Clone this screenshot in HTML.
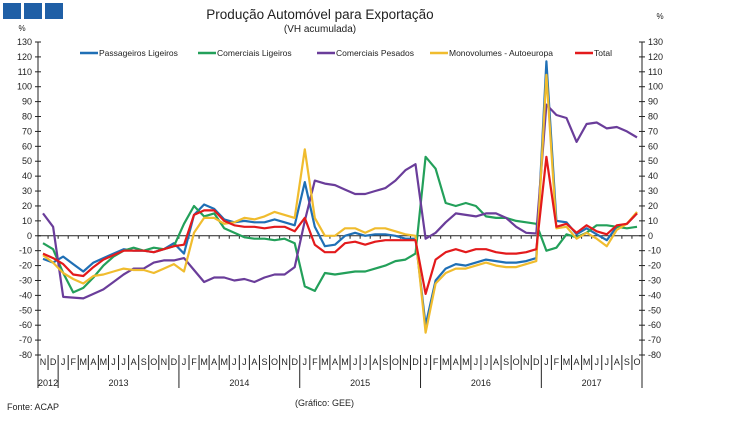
<!DOCTYPE html>
<html><head><meta charset="utf-8"><style>
body{margin:0;background:#fff;}
svg text{font-family:"Liberation Sans",sans-serif;fill:#222;}
</style></head><body>
<svg id="chart" width="750" height="418" xmlns="http://www.w3.org/2000/svg">
<rect x="3" y="3" width="18" height="16" fill="#1f5fa6"/>
<rect x="24" y="3" width="18" height="16" fill="#1f5fa6"/>
<rect x="45" y="3" width="18" height="16" fill="#1f5fa6"/>
<text x="320" y="19" font-size="13.5" text-anchor="middle">Produção Automóvel para Exportação</text>
<text x="320" y="32" font-size="10" text-anchor="middle">(VH acumulada)</text>
<text x="22" y="31" font-size="8" text-anchor="middle">%</text>
<text x="660" y="19" font-size="8" text-anchor="middle">%</text>
<text x="7" y="410" font-size="9">Fonte: ACAP</text>
<text x="295" y="406" font-size="9">(Gráfico: GEE)</text>
<g id="axes"></g><g id="series"></g><g id="legend"></g>
</svg>
<script>
const months=["N","D","J","F","M","A","M","J","J","A","S","O","N","D","J","F","M","A","M","J","J","A","S","O","N","D","J","F","M","A","M","J","J","A","S","O","N","D","J","F","M","A","M","J","J","A","S","O","N","D","J","F","M","A","M","J","J","A","S","O"];
const years=["2012","2013","2014","2015","2016","2017"];
const yearStarts=[0,2,14,26,38,50];
const yTicks=[130,120,110,100,90,80,70,60,50,40,30,20,10,0,-10,-20,-30,-40,-50,-60,-70,-80];
const seriesNames=["Passageiros Ligeiros","Comerciais Ligeiros","Comerciais Pesados","Monovolumes - Autoeuropa","Total"];
const seriesColors=["#1f6fb5","#23a05a","#6a3d9a","#f0bc2e","#e31a1c"];
const passageiros=[-15.5,-18,-14,-19,-24,-18,-15,-12,-9,-10,-10,-11,-9,-5,-12,14,21,18,11,9,10,9,9,11,9,7,36,6,-7,-6,0,2,0,1,1,0,-2,-2,-60,-30,-22,-19,-20,-18,-16,-17,-18,-18,-17,-15,117,10,9,1,5,1,-3,6,8,15];
const comerciaisLigeiros=[-5,-9,-25,-38,-35,-28,-20,-14,-10,-8,-10,-8,-9,-7,8,20,13,15,5,2,-1,-2,-2,-3,-2,-5,-34,-37,-25,-26,-25,-24,-24,-22,-20,-17,-16,-12,53,45,22,20,22,20,13,12,12,10,9,8,-10,-8,1,-1,2,7,7,6,5,6];
const comerciaisPesados=[15,6,-41,-41.5,-42,-39,-36,-31,-26,-22,-22,-18,-16.5,-16.5,-15,-23,-31,-28,-28,-30,-29,-31,-28,-26,-26,-21,10,37,35,34,31,28,28,30,32,37,44,48,-2,2,9,15,14,13,15,15,12,6,2,1.5,88,81,79,63,75,76,72,73,70,66];
const monovolumes=[-13,-18,-25,-29,-32,-27,-26,-24,-22,-23,-23,-25,-22,-19,-24,2,12,12,8,9,12,11,13,16,14,12,58,12,0,0,5,5,2,5,5,3,1,0,-65,-32,-25,-22,-22,-20,-18,-20,-21,-21,-19,-17,108,5,6,-2,2,-2,-7,4,8,16];
const total=[-12,-15,-19,-26,-27,-21,-16,-13,-10,-10,-10,-11,-9,-7,-6,14,17,17,10,7,6,6,5,6,6,3,12,-6,-11,-11,-5,-4,-6,-4,-3,-3,-3,-3,-39,-16,-11,-9,-11,-9,-9,-11,-12,-12,-11,-9,53,6,8,2,7,3,1,7,8,15];
const allSeries=[passageiros,comerciaisLigeiros,comerciaisPesados,monovolumes,total];
const seriesKeys=["passageiros-ligeiros","comerciais-ligeiros","comerciais-pesados","monovolumes-autoeuropa","total"];

const NS="http://www.w3.org/2000/svg";
const X0=38,X1=642,Y0=42,Y1=355,VMAX=130,VMIN=-80;
const n=months.length, step=(X1-X0)/n;
const xPos=i=>X0+step*(i+0.5);
const yPos=v=>Y0+(VMAX-v)*(Y1-Y0)/(VMAX-VMIN);
function mk(tag,attrs,parent){const e=document.createElementNS(NS,tag);for(const k in attrs)e.setAttribute(k,attrs[k]);parent.appendChild(e);return e;}
const ax=document.getElementById("axes");
// axes
let l=mk("line",{x1:X0,y1:Y0,x2:X0,y2:388,stroke:"#222","stroke-width":1},ax);


l=mk("line",{x1:X1,y1:Y0,x2:X1,y2:388,stroke:"#222","stroke-width":1},ax);


l=mk("line",{x1:X0,y1:yPos(0),x2:X1,y2:yPos(0),stroke:"#222","stroke-width":1},ax);


yTicks.forEach(v=>{
  const y=yPos(v);
  mk("line",{x1:X0-3,y1:y,x2:X0+3,y2:y,stroke:"#222"},ax);
  mk("line",{x1:X1-3,y1:y,x2:X1+3,y2:y,stroke:"#222"},ax);
  let t=mk("text",{x:X0-6,y:y+3,"font-size":"9","text-anchor":"end"},ax);t.textContent=v;
  
  
  t=mk("text",{x:X1+6,y:y+3,"font-size":"9"},ax);t.textContent=v;
  
  
});
for(let k=0;k<=n;k++){
  const x=X0+step*k;
  mk("line",{x1:x,y1:yPos(0),x2:x,y2:yPos(0)+3,stroke:"#222"},ax);
  mk("line",{x1:x,y1:Y1,x2:x,y2:yearStarts.includes(k)||k===n?388:370,stroke:"#222"},ax);
}
months.forEach((m,i)=>{
  const t=mk("text",{x:xPos(i),y:365,"font-size":"9","text-anchor":"middle"},ax);t.textContent=m;
  
  
});
years.forEach((yr,j)=>{
  const s=yearStarts[j],e=j+1<yearStarts.length?yearStarts[j+1]:n;
  const t=mk("text",{x:X0+step*(s+e)/2,y:386,"font-size":"9","text-anchor":"middle"},ax);t.textContent=yr;
  
  
});
const sg=document.getElementById("series");
allSeries.forEach((d,s)=>{
  const p=mk("polyline",{points:d.map((v,i)=>xPos(i).toFixed(1)+","+yPos(v).toFixed(1)).join(" "),fill:"none",stroke:seriesColors[s],"stroke-width":2.2,"stroke-linejoin":"round"},sg);
  
  
});
const lg=document.getElementById("legend");
const legX=[80,198,317,430,575];
seriesNames.forEach((nm,s)=>{
  const g=mk("g",{},lg);
  
  
  mk("line",{x1:legX[s],y1:53,x2:legX[s]+18,y2:53,stroke:seriesColors[s],"stroke-width":2.5},g);
  const t=mk("text",{x:legX[s]+19,y:56,"font-size":"8.5"},g);t.textContent=nm;
});
</script>
</body></html>
